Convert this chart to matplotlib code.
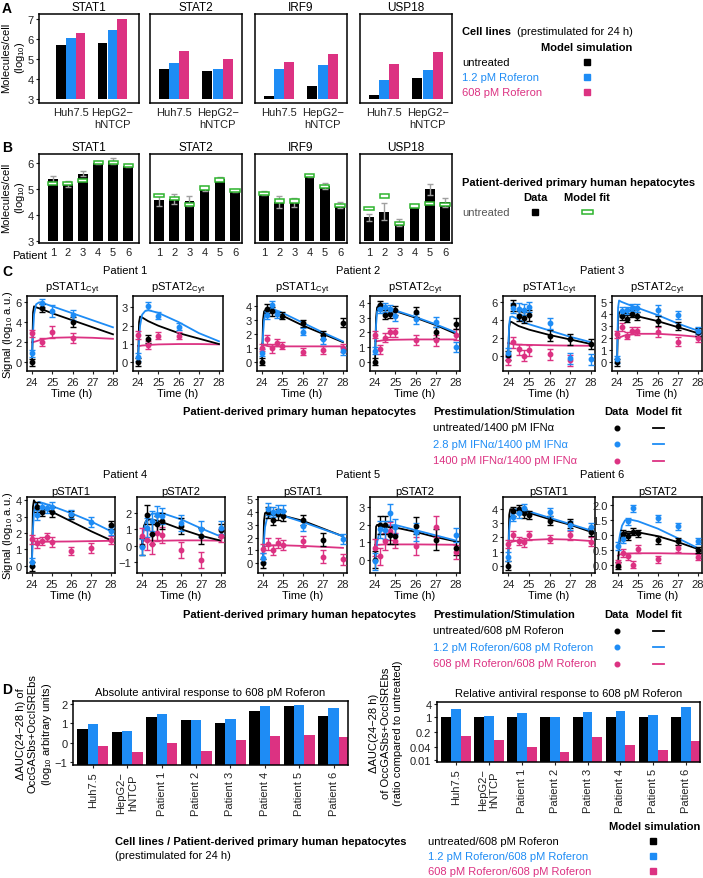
import numpy as np
import matplotlib.pyplot as plt
from matplotlib.patches import Rectangle

plt.rcParams['font.family'] = ['Liberation Sans', 'DejaVu Sans']
plt.rcParams['font.size'] = 8
plt.rcParams['mathtext.fontset'] = 'custom'
plt.rcParams['mathtext.rm'] = 'Liberation Sans'
plt.rcParams['mathtext.it'] = 'Liberation Sans:italic'
plt.rcParams['mathtext.bf'] = 'Liberation Sans:bold'

nan = np.nan
BLACK = '#000000'
BLUE = '#1E8CF5'
PINK = '#DC3282'
GREEN = '#2DB42D'
GREY = '#A0A0A0'
cols = [BLACK, BLUE, PINK]
FS = 8

# ---------------- panel A : cell lines, model simulation
genes = ['STAT1', 'STAT2', 'IRF9', 'USP18']
cell_lines = ['Huh7.5', 'HepG2\u2212\nhNTCP']
# per gene: [untreated, 1.2 pM, 608 pM] x [Huh7.5, HepG2]
a_stat1 = [[5.72, 5.82], [6.05, 6.45], [6.32, 7.02]]
a_stat2 = [[4.52, 4.40], [4.80, 4.50], [5.40, 5.03]]
a_irf9 = [[3.18, 3.65], [4.52, 4.73], [4.85, 5.23]]
a_usp18 = [[3.23, 4.08], [3.98, 4.46], [4.78, 5.34]]

# ---------------- panel B : patients, data + model fit
patients = [1, 2, 3, 4, 5, 6]
b_stat1 = [5.40, 5.20, 5.60, 6.02, 6.08, 5.90]
b_stat1_err = [0.12, 0.10, 0.10, 0.05, 0.12, 0.05]
b_stat1_fit = [5.22, 5.22, 5.32, 6.02, 6.02, 5.90]
b_stat2 = [4.58, 4.62, 4.55, 5.00, 5.40, 4.95]
b_stat2_err = [0.22, 0.20, 0.20, 0.07, 0.05, 0.06]
b_stat2_fit = [4.76, 4.63, 4.42, 5.05, 5.35, 4.95]
b_irf9 = [4.85, 4.50, 4.50, 5.50, 5.12, 4.40]
b_irf9_err = [0.08, 0.22, 0.17, 0.05, 0.13, 0.12]
b_irf9_fit = [4.84, 4.55, 4.55, 5.52, 5.10, 4.38]
b_usp18 = [3.91, 4.14, 3.72, 4.35, 4.99, 4.50]
b_usp18_err = [0.15, 0.32, 0.13, 0.05, 0.20, 0.17]
b_usp18_fit = [4.25, 4.73, 3.68, 4.35, 4.44, 4.40]

# ---------------- panel C : time courses
t_data = [24, 24.25, 24.5, 24.75, 25, 26, 27, 28]
t_fit = [24, 24.05, 24.1, 24.2, 24.35, 24.5, 25, 26, 27, 28]

p1_s1_k = [0.0, nan, 5.4, nan, nan, 4.0, nan, nan]
p1_s1_b = [0.9, nan, 5.9, nan, 5.1, 4.7, nan, nan]
p1_s1_m = [2.9, nan, 2.0, nan, 3.0, 2.4, nan, nan]
p1_s1_e = [0.35, 0.4, 0.4, 0.4, 0.6, 0.5, 0.4, 0.4]
p1_s1_fk = [0.0, 5.0, 5.6, 5.5, 5.4, 5.3, 4.9, 4.2, 3.5, 2.8]
p1_s1_fb = [0.9, 3.0, 4.8, 5.8, 6.0, 5.95, 5.6, 4.9, 4.2, 3.5]
p1_s1_fm = [2.0, 2.0, 2.05, 2.1, 2.2, 2.3, 2.45, 2.5, 2.45, 2.35]

p1_s2_k = [0.0, nan, 1.25, nan, nan, nan, nan, nan]
p1_s2_b = [0.3, nan, 3.1, nan, 2.55, 1.95, nan, nan]
p1_s2_m = [1.5, nan, 0.95, nan, 1.45, 1.45, nan, nan]
p1_s2_e = [0.22, 0.25, 0.22, 0.2, 0.2, 0.2, 0.2, 0.2]
p1_s2_fk = [0.0, 2.2, 2.5, 2.45, 2.35, 2.25, 2.0, 1.6, 1.3, 1.0]
p1_s2_fb = [0.3, 1.2, 2.0, 2.6, 2.8, 2.85, 2.7, 2.2, 1.6, 1.15]
p1_s2_fm = [0.9, 0.9, 0.9, 0.92, 0.93, 0.95, 0.98, 1.0, 1.0, 0.98]

p2_s1_k = [0.0, 3.8, 3.6, nan, 3.3, 2.75, 1.9, 2.8]
p2_s1_b = [0.65, 3.35, 4.05, 3.4, nan, 2.15, 1.6, 0.75]
p2_s1_m = [1.0, 1.6, 0.95, 1.35, 1.15, 0.7, 0.85, 1.0]
p2_s1_e = [0.25, 0.3, 0.3, 0.25, 0.25, 0.25, 0.3, 0.3]
p2_s1_fk = [0.0, 3.0, 3.6, 3.75, 3.7, 3.6, 3.3, 2.6, 2.0, 1.4]
p2_s1_fb = [0.65, 2.0, 3.0, 3.6, 3.8, 3.8, 3.5, 2.8, 2.1, 1.45]
p2_s1_fm = [1.3, 1.25, 1.2, 1.15, 1.1, 1.1, 1.1, 1.1, 1.1, 1.1]

p2_s2_k = [0.0, 3.85, 3.2, 3.25, 3.5, 3.4, 2.0, 2.6]
p2_s2_b = [0.75, 3.6, 3.7, 3.6, 3.1, 2.9, 2.7, 1.0]
p2_s2_m = [1.85, 0.85, 1.65, 2.0, 2.0, 1.5, 1.45, 1.85]
p2_s2_e = [0.25, 0.3, 0.3, 0.3, 0.3, 0.35, 0.35, 0.35]
p2_s2_fk = [0.0, 3.0, 3.7, 3.85, 3.75, 3.65, 3.45, 3.0, 2.5, 1.9]
p2_s2_fb = [0.75, 2.5, 3.4, 3.75, 3.75, 3.7, 3.5, 3.05, 2.55, 2.0]
p2_s2_fm = [1.4, 1.4, 1.4, 1.42, 1.45, 1.48, 1.5, 1.52, 1.52, 1.52]

p3_s1_k = [0.05, 5.6, 4.4, 4.2, 4.5, 2.2, 1.8, 1.3]
p3_s1_b = [0.3, 5.3, 5.2, 5.1, 5.4, 3.6, -0.3, -0.4]
p3_s1_m = [-0.5, 1.5, 0.7, 0.0, 0.6, 0.15, -0.5, nan]
p3_s1_e = [0.5, 0.6, 0.6, 0.6, 0.6, 0.6, 0.6, 0.6]
p3_s1_fk = [0.05, 3.2, 3.8, 3.7, 3.5, 3.3, 2.9, 2.3, 1.8, 1.3]
p3_s1_fb = [0.3, 3.5, 4.3, 4.35, 4.2, 4.0, 3.5, 2.8, 2.1, 1.5]
p3_s1_fm = [1.4, 1.4, 1.35, 1.3, 1.25, 1.22, 1.2, 1.15, 1.12, 1.1]

p3_s2_k = [0.0, 3.8, 3.6, 4.0, 3.8, 3.4, 3.0, 2.5]
p3_s2_b = [0.25, 4.2, 4.3, 4.5, 4.5, 4.3, 3.9, 2.6]
p3_s2_m = [2.3, 2.9, 2.2, 2.6, 2.6, 2.5, 1.7, 2.0]
p3_s2_e = [0.3, 0.35, 0.3, 0.3, 0.35, 0.4, 0.35, 0.3]
p3_s2_fk = [0.0, 3.5, 4.1, 4.2, 4.1, 4.0, 3.8, 3.4, 2.9, 2.4]
p3_s2_fb = [0.25, 4.5, 5.1, 5.0, 4.9, 4.8, 4.5, 3.9, 3.2, 2.6]
p3_s2_fm = [2.0, 2.0, 2.05, 2.1, 2.2, 2.25, 2.35, 2.35, 2.25, 2.1]

p4_s1_k = [-0.05, 3.6, 3.3, nan, 3.3, 3.1, nan, 2.5]
p4_s1_b = [0.2, 3.1, 3.6, 3.5, 3.6, 3.15, 2.65, 2.1]
p4_s1_m = [1.6, 1.4, 1.5, 1.75, 1.45, 0.9, 1.1, 1.55]
p4_s1_e = [0.25, 0.3, 0.25, 0.25, 0.3, 0.25, 0.3, 0.25]
p4_s1_fk = [0.0, 3.6, 4.0, 3.8, 3.6, 3.5, 3.3, 2.7, 2.1, 1.55]
p4_s1_fb = [0.2, 2.2, 3.2, 3.8, 3.9, 3.85, 3.65, 3.2, 2.7, 2.1]
p4_s1_fm = [1.6, 1.55, 1.5, 1.48, 1.47, 1.47, 1.47, 1.48, 1.5, 1.52]

p4_s2_k = [-0.05, 1.9, 0.7, 1.3, 1.5, 1.2, 0.6, 0.95]
p4_s2_b = [-0.1, 1.1, 1.5, 1.9, 1.8, 1.4, 1.0, 1.1]
p4_s2_m = [0.6, 0.35, 0.1, 0.8, 0.65, -0.25, -0.9, 0.6]
p4_s2_e = [0.5, 0.6, 0.6, 0.5, 0.5, 0.5, 0.5, 0.4]
p4_s2_fk = [-0.05, 0.8, 1.2, 1.5, 1.6, 1.6, 1.45, 1.0, 0.6, 0.3]
p4_s2_fb = [-0.1, 0.6, 1.0, 1.5, 1.8, 1.95, 2.0, 1.6, 1.05, 0.55]
p4_s2_fm = [0.3, 0.3, 0.3, 0.3, 0.3, 0.3, 0.3, 0.32, 0.32, 0.3]

p5_s1_k = [0.0, 3.95, 3.4, 3.8, 3.7, 3.35, 1.85, nan]
p5_s1_b = [0.45, 4.2, 4.0, 4.1, 4.1, 2.9, nan, 1.9]
p5_s1_m = [1.15, 1.5, 1.05, 1.6, 1.45, 1.7, 0.5, 0.3]
p5_s1_e = [0.35, 0.45, 0.4, 0.4, 0.4, 0.4, 0.5, 0.4]
p5_s1_fk = [0.0, 3.3, 3.9, 3.95, 3.9, 3.85, 3.7, 3.3, 2.7, 2.1]
p5_s1_fb = [0.45, 1.8, 2.8, 3.5, 3.7, 3.75, 3.7, 3.2, 2.65, 2.1]
p5_s1_fm = [1.15, 1.25, 1.3, 1.35, 1.38, 1.4, 1.4, 1.35, 1.28, 1.2]

p5_s2_k = [0.0, 2.0, 2.0, 1.4, 1.35, 1.95, 1.15, 0.7]
p5_s2_b = [-0.1, 1.75, 1.7, 2.7, 1.9, 1.6, nan, 1.4]
p5_s2_m = [0.7, 0.2, 1.05, 1.65, 1.1, 0.8, 1.9, 0.45]
p5_s2_e = [0.5, 0.5, 0.5, 0.5, 0.45, 0.5, 0.6, 0.4]
p5_s2_fk = [0.0, 1.9, 2.0, 2.0, 1.98, 1.95, 1.85, 1.6, 1.3, 1.05]
p5_s2_fb = [-0.1, 0.5, 1.0, 1.5, 1.85, 1.95, 2.0, 1.7, 1.4, 1.1]
p5_s2_fm = [0.85, 0.85, 0.85, 0.86, 0.87, 0.88, 0.88, 0.88, 0.87, 0.86]

p6_s1_k = [0.0, 3.85, 4.0, 3.7, 3.6, 3.2, 3.0, 2.4]
p6_s1_b = [0.65, 3.45, 3.7, 4.1, nan, 3.8, 2.85, 2.75]
p6_s1_m = [1.55, 2.15, 1.75, 1.65, 2.15, 1.9, 2.15, 1.7]
p6_s1_e = [0.3, 0.3, 0.3, 0.3, 0.3, 0.3, 0.3, 0.3]
p6_s1_fk = [0.0, 3.6, 4.0, 4.0, 3.95, 3.9, 3.75, 3.3, 2.9, 2.4]
p6_s1_fb = [0.65, 2.5, 3.3, 3.8, 4.0, 4.0, 3.85, 3.4, 2.95, 2.5]
p6_s1_fm = [1.55, 1.6, 1.65, 1.7, 1.75, 1.78, 1.82, 1.88, 1.85, 1.75]

p6_s2_k = [-0.03, 1.02, 0.95, 1.1, 1.05, 0.82, 0.78, 0.5]
p6_s2_b = [0.62, 0.85, 1.45, 1.88, nan, 1.55, 1.28, 0.8]
p6_s2_m = [0.05, 0.38, 0.28, 0.0, 0.52, 0.18, 0.55, 0.25]
p6_s2_e = [0.12, 0.14, 0.12, 0.12, 0.12, 0.12, 0.12, 0.1]
p6_s2_fk = [0.0, 0.6, 0.85, 1.02, 1.08, 1.1, 1.08, 0.95, 0.75, 0.52]
p6_s2_fb = [0.6, 0.8, 1.0, 1.3, 1.48, 1.52, 1.45, 1.2, 0.88, 0.55]
p6_s2_fm = [0.3, 0.32, 0.34, 0.35, 0.36, 0.37, 0.38, 0.38, 0.37, 0.36]

# ---------------- panel D : antiviral response
d_labels = ['Huh7.5', 'HepG2\u2212\nhNTCP', 'Patient 1', 'Patient 2',
            'Patient 3', 'Patient 4', 'Patient 5', 'Patient 6']
d_abs_untreated = [0.69, 0.57, 1.33, 1.16, 1.04, 1.65, 1.92, 1.40]
d_abs_low = [0.99, 0.62, 1.50, 1.16, 1.21, 1.89, 1.97, 1.80]
d_abs_high = [-0.17, -0.47, -0.03, -0.43, 0.12, 0.35, 0.40, 0.29]
d_rel_untreated = [1, 1, 1, 1, 1, 1, 1, 1]
d_rel_low = [2.2, 1.15, 1.5, 1.0, 1.65, 1.78, 1.2, 2.7]
d_rel_high = [0.138, 0.09, 0.04, 0.024, 0.12, 0.049, 0.03, 0.078]

W, H = 703, 879
fig = plt.figure(figsize=(W / 100, H / 100), dpi=100)


def box(x0, y0, x1, y1):
    ax = fig.add_axes([x0 / W, 1 - y1 / H, (x1 - x0) / W, (y1 - y0) / H])
    for s in ax.spines.values():
        s.set_linewidth(1.1)
    ax.tick_params(length=2.5, width=0.8, pad=1.5, colors='#222222',
                   labelsize=FS)
    return ax


ov = fig.add_axes([0, 0, 1, 1], zorder=10)
ov.set_xlim(0, W)
ov.set_ylim(H, 0)
ov.axis('off')


def txt(x, y, s, **kw):
    kw.setdefault('va', 'center')
    ov.text(x, y, s, **kw)


# panel letters
for lab, y in zip('ABCD', [9, 148, 272, 690]):
    txt(2, y, lab, fontsize=10, fontweight='bold')

# ---------- A
a_vals = [a_stat1, a_stat2, a_irf9, a_usp18]
a_x = [(39, 139), (150, 242), (255, 347), (360, 452)]
a_xlim = [(-0.77, 1.64), (-0.55, 1.56), (-0.55, 1.56), (-0.55, 1.56)]
for i, g in enumerate(genes):
    ax = box(a_x[i][0], 15, a_x[i][1], 104)
    pos = np.arange(2)
    for k in range(3):
        v = np.array(a_vals[i][k])
        ax.bar(pos + (k - 1) * 0.235, v - 3, bottom=3, width=0.23,
               color=cols[k], linewidth=0)
    ax.set_xlim(*a_xlim[i])
    ax.set_ylim(2.81, 7.25)
    ax.set_xticks(pos, cell_lines)
    ax.tick_params(axis='x', length=0, pad=3)
    ax.set_title(g, fontsize=8.5, pad=3)
    if i == 0:
        ax.set_yticks([3, 4, 5, 6, 7])
    else:
        ax.set_yticks([])
txt(14, 58, 'Molecules/cell\n(log$_{10}$)', rotation=90, ha='center',
    multialignment='center')

txt(462, 32, 'Cell lines', fontweight='bold')
txt(517, 32, '(prestimulated for 24 h)')
txt(587, 48, 'Model simulation', fontweight='bold', ha='center')
for k, (lab, y) in enumerate(zip(['untreated', '1.2 pM Roferon', '608 pM Roferon'],
                                 [63, 78, 93])):
    txt(462, y, lab, color=cols[k])
    ov.plot(587, y, 's', ms=4, color=cols[k])

# ---------- B
b_vals = [b_stat1, b_stat2, b_irf9, b_usp18]
b_errs = [b_stat1_err, b_stat2_err, b_irf9_err, b_usp18_err]
b_fits = [b_stat1_fit, b_stat2_fit, b_irf9_fit, b_usp18_fit]
b_xlim = [(0.07, 6.73), (0.41, 6.46), (0.41, 6.46), (0.41, 6.46)]
for i, g in enumerate(genes):
    ax = box(a_x[i][0], 155, a_x[i][1], 244)
    v = np.array(b_vals[i])
    ax.bar(patients, v - 3, bottom=3, width=0.62, color=BLACK, linewidth=0)
    ax.errorbar(patients, v, yerr=b_errs[i], fmt='none', ecolor=GREY,
                elinewidth=1, capsize=2.5, capthick=1, zorder=3)
    f = np.array(b_fits[i])
    ax.bar(patients, 0.13, bottom=f - 0.065, width=0.6, facecolor='white',
           edgecolor=GREEN, linewidth=1.1, zorder=4)
    ax.set_xlim(*b_xlim[i])
    ax.set_ylim(2.93, 6.35)
    ax.set_xticks(patients)
    ax.tick_params(axis='x', length=0, pad=3)
    ax.set_title(g, fontsize=8.5, pad=3)
    if i == 0:
        ax.set_yticks([3, 4, 5, 6])
    else:
        ax.set_yticks([])
txt(47, 256, 'Patient', ha='right')
txt(14, 198, 'Molecules/cell\n(log$_{10}$)', rotation=90, ha='center',
    multialignment='center')

txt(462, 183, 'Patient-derived primary human hepatocytes', fontweight='bold')
txt(535, 198, 'Data', fontweight='bold', ha='center')
txt(587, 198, 'Model fit', fontweight='bold', ha='center')
txt(462, 213, 'untreated', color='#555555')
ov.plot(535, 213, 's', ms=4, color=BLACK)
ov.add_patch(Rectangle((581.5, 211), 11, 4, facecolor='white',
                       edgecolor=GREEN, linewidth=1.1))

# ---------- C
c_sets = [
    (p1_s1_k, p1_s1_b, p1_s1_m, p1_s1_e, p1_s1_fk, p1_s1_fb, p1_s1_fm),
    (p1_s2_k, p1_s2_b, p1_s2_m, p1_s2_e, p1_s2_fk, p1_s2_fb, p1_s2_fm),
    (p2_s1_k, p2_s1_b, p2_s1_m, p2_s1_e, p2_s1_fk, p2_s1_fb, p2_s1_fm),
    (p2_s2_k, p2_s2_b, p2_s2_m, p2_s2_e, p2_s2_fk, p2_s2_fb, p2_s2_fm),
    (p3_s1_k, p3_s1_b, p3_s1_m, p3_s1_e, p3_s1_fk, p3_s1_fb, p3_s1_fm),
    (p3_s2_k, p3_s2_b, p3_s2_m, p3_s2_e, p3_s2_fk, p3_s2_fb, p3_s2_fm),
    (p4_s1_k, p4_s1_b, p4_s1_m, p4_s1_e, p4_s1_fk, p4_s1_fb, p4_s1_fm),
    (p4_s2_k, p4_s2_b, p4_s2_m, p4_s2_e, p4_s2_fk, p4_s2_fb, p4_s2_fm),
    (p5_s1_k, p5_s1_b, p5_s1_m, p5_s1_e, p5_s1_fk, p5_s1_fb, p5_s1_fm),
    (p5_s2_k, p5_s2_b, p5_s2_m, p5_s2_e, p5_s2_fk, p5_s2_fb, p5_s2_fm),
    (p6_s1_k, p6_s1_b, p6_s1_m, p6_s1_e, p6_s1_fk, p6_s1_fb, p6_s1_fm),
    (p6_s2_k, p6_s2_b, p6_s2_m, p6_s2_e, p6_s2_fk, p6_s2_fb, p6_s2_fm),
]
c_ylim = [(-0.87, 6.63), (-0.47, 3.62), (-0.66, 4.7), (-0.63, 4.48),
          (-1.7, 6.63), (-0.72, 5.47), (-0.45, 4.2), (-1.68, 2.98),
          (-0.75, 5.15), (-0.76, 3.6), (-0.52, 4.87), (-0.28, 2.26)]
c_ticks = [[0, 2, 4, 6], [0, 1, 2, 3], [0, 1, 2, 3, 4], [0, 1, 2, 3, 4],
           [0, 2, 4, 6], [0, 1, 2, 3, 4, 5], [0, 1, 2, 3, 4], [-1, 0, 1, 2],
           [0, 1, 2, 3, 4, 5], [0, 1, 2, 3], [0, 1, 2, 3, 4],
           [0.0, 0.5, 1.0, 1.5, 2.0]]
row1_x = [(27, 117), (133, 223), (257, 347), (370, 460), (503, 595), (612, 702)]
row2_x = [(27, 115), (137, 225), (258, 347), (370, 460), (503, 595), (613, 702)]
rows = [(297, 372, row1_x, '$_{\\mathrm{Cyt}}$', 271, 289),
        (498, 574, row2_x, '', 475, 490)]
pat_centers = [125, 358, 602]

for r, (y0, y1, xs, sub, ty, sty) in enumerate(rows):
    for j in range(6):
        n = r * 6 + j
        k, b, m, e, fk, fb, fm = c_sets[n]
        ax = box(xs[j][0], y0, xs[j][1], y1)
        for fit, c in zip([fm, fk, fb], [PINK, BLACK, BLUE]):
            ax.plot(t_fit, fit, color=c, lw=1.3, zorder=2)
        for d, c in zip([m, k, b], [PINK, BLACK, BLUE]):
            ax.errorbar(t_data, d, yerr=e, fmt='o', ms=3.2, color=c,
                        elinewidth=1, capsize=2, capthick=1, zorder=3)
        ax.set_xlim(23.75, 28.2)
        ax.set_ylim(*c_ylim[n])
        ax.set_xticks([24, 25, 26, 27, 28])
        tk = c_ticks[n]
        if n == 11:
            ax.set_yticks(tk, ['%.1f' % t for t in tk])
        else:
            ax.set_yticks(tk)
        ax.set_xlabel('Time (h)', labelpad=1, fontsize=FS)
        ax.set_title('pSTAT%d%s' % (j % 2 + 1, sub), fontsize=FS, pad=2)
    for p in range(3):
        txt(pat_centers[p], ty, 'Patient %d' % (r * 3 + p + 1), ha='center')
    txt(8, (y0 + y1) / 2, 'Signal (log$_{10}$ a.u.)', rotation=90,
        ha='center')

leg_rows = [
    (412, ['untreated/1400 pM IFN\u03b1', '2.8 pM IFN\u03b1/1400 pM IFN\u03b1',
           '1400 pM IFN\u03b1/1400 pM IFN\u03b1']),
    (615, ['untreated/608 pM Roferon', '1.2 pM Roferon/608 pM Roferon',
           '608 pM Roferon/608 pM Roferon']),
]
for y, labs in leg_rows:
    txt(183, y, 'Patient-derived primary human hepatocytes', fontweight='bold')
    txt(433, y, 'Prestimulation/Stimulation', fontweight='bold')
    txt(616, y, 'Data', fontweight='bold', ha='center')
    txt(659, y, 'Model fit', fontweight='bold', ha='center')
    for i, lab in enumerate(labs):
        yy = y + 16.5 * (i + 1)
        txt(433, yy, lab, color=cols[i])
        ov.plot(617, yy, 'o', ms=3.3, color=cols[i])
        ov.plot([653, 664], [yy, yy], color=cols[i], lw=1.3)

# ---------- D
pos = np.arange(8)
ax = box(73, 702, 348, 766)
lo = -1.17
for k, v in enumerate([d_abs_untreated, d_abs_low, d_abs_high]):
    ax.bar(pos + (k - 1) * 0.3, np.array(v) - lo, bottom=lo, width=0.3,
           color=cols[k], linewidth=0)
ax.set_xlim(-0.58, 7.42)
ax.set_ylim(lo, 2.17)
ax.set_yticks([-1, 0, 1, 2])
ax.set_xticks(pos, d_labels, rotation=90)
ax.tick_params(axis='x', pad=2)
ax.set_title('Absolute antiviral response to 608 pM Roferon', fontsize=FS,
             pad=4)
txt(35, 734, '\u0394AUC(24\u221228 h) of\nOccGASbs+OccISREbs\n(log$_{10}$ arbitrary units)',
    rotation=90, ha='center', multialignment='center')

ax = box(437, 703, 700, 763)
ax.set_yscale('log')
lo = 0.0085
for k, v in enumerate([d_rel_untreated, d_rel_low, d_rel_high]):
    ax.bar(pos + (k - 1) * 0.3, np.array(v) - lo, bottom=lo, width=0.3,
           color=cols[k], linewidth=0)
ax.set_xlim(-0.58, 7.42)
ax.set_ylim(lo, 4.8)
ax.set_yticks([0.01, 0.04, 0.2, 1, 4], ['0.01', '0.04', '0.2', '1', '4'])
ax.minorticks_off()
ax.set_xticks(pos, d_labels, rotation=90)
ax.tick_params(axis='x', pad=2)
ax.set_title('Relative antiviral response to 608 pM Roferon', fontsize=FS,
             pad=4)
txt(386, 733, '\u0394AUC(24\u221228 h)\nof OccGASbs+OccISREbs\n(ratio compared to untreated)',
    rotation=90, ha='center', multialignment='center')

txt(115, 842, 'Cell lines / Patient-derived primary human hepatocytes',
    fontweight='bold')
txt(115, 856, '(prestimulated for 24 h)')
txt(700, 827, 'Model simulation', fontweight='bold', ha='right')
for i, lab in enumerate(['untreated/608 pM Roferon',
                         '1.2 pM Roferon/608 pM Roferon',
                         '608 pM Roferon/608 pM Roferon']):
    yy = 842 + 15 * i
    txt(428, yy, lab, color=cols[i])
    ov.plot(653, yy, 's', ms=4, color=cols[i])

fig.savefig('out.png', dpi=100)
